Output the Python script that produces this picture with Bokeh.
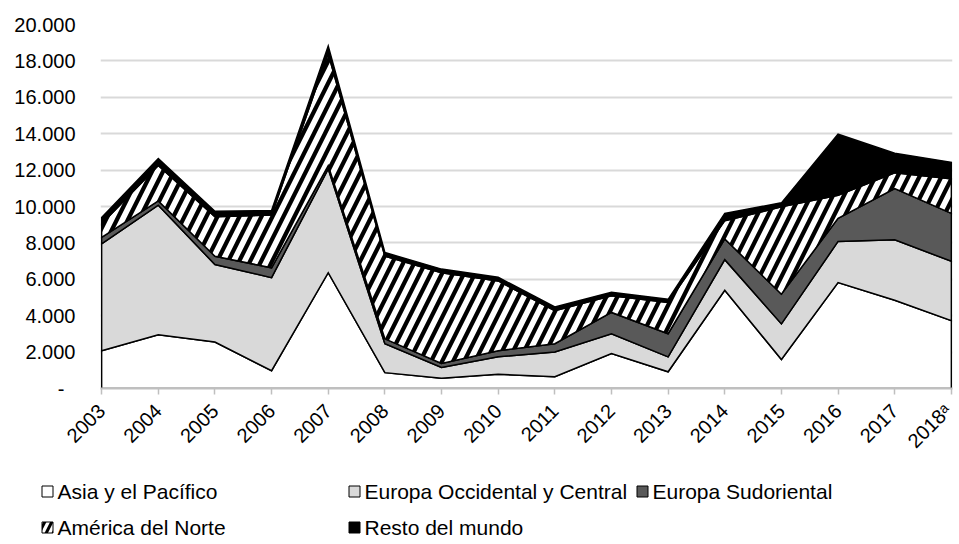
import numpy as np
from math import pi
from bokeh.plotting import figure
from bokeh.models import Range1d, FixedTicker
from bokeh.core.properties import value
from bokeh.embed import file_html
from bokeh.resources import INLINE

# ---------------- data ----------------
years = ["2003", "2004", "2005", "2006", "2007", "2008", "2009", "2010",
         "2011", "2012", "2013", "2014", "2015", "2016", "2017", "2018\u1d43"]
asia = [2070, 2950, 2550, 980, 6360, 870, 560, 780, 650, 1920, 920, 5400, 1590, 5820, 4850, 3730]
europa_occ = [5880, 7120, 4260, 5110, 5710, 1590, 600, 960, 1360, 1090, 820, 1680, 1960, 2260, 3320, 3260]
sudoriental = [350, 240, 460, 540, 180, 270, 220, 330, 450, 1170, 1270, 1140, 1630, 1270, 2810, 2630]
america = [750, 1940, 2170, 2900, 6150, 4540, 4980, 3840, 1820, 910, 1720, 1000, 4800, 1270, 870, 1900]
resto = [350, 380, 300, 250, 420, 200, 200, 200, 200, 200, 170, 400, 220, 3350, 1080, 910]
series_names = ["Asia y el Pacífico", "Europa Occidental y Central", "Europa Sudoriental",
                "América del Norte", "Resto del mundo"]
y_ticks = [0, 2000, 4000, 6000, 8000, 10000, 12000, 14000, 16000, 18000, 20000]
y_tick_labels = ["-\u00a0\u00a0", "2.000", "4.000", "6.000", "8.000", "10.000",
                 "12.000", "14.000", "16.000", "18.000", "20.000"]

FONT = "Liberation Sans"
fills = ["#ffffff", "#d9d9d9", "#595959", "#ffffff", "#000000"]
hatches = [None, None, None, "/", None]

# ---------------- chart ----------------
p = figure(width=955, height=462, x_range=Range1d(-0.02, 15.02), y_range=Range1d(0, 20000),
           output_backend="svg", toolbar_location=None,
           min_border_left=100, min_border_right=3, min_border_top=24, min_border_bottom=70)
p.outline_line_color = None
p.background_fill_color = "white"
p.border_fill_color = "white"
p.xgrid.visible = False
p.ygrid.grid_line_color = "#d9d9d9"
p.ygrid.grid_line_width = 2
p.ygrid.ticker = FixedTicker(ticks=y_ticks)

x = np.arange(len(years), dtype=float)
layers = [np.array(s, dtype=float) for s in (asia, europa_occ, sudoriental, america, resto)]
bottom = np.zeros(len(years))
for vals, fc, hp in zip(layers, fills, hatches):
    top = bottom + vals
    xs = np.concatenate([x, x[::-1]])
    ys = np.concatenate([top, bottom[::-1]])
    kw = dict(fill_color=fc, line_color="black", line_width=1.5, line_join="miter")
    if hp:
        kw.update(hatch_pattern=hp, hatch_color="black", hatch_weight=4.2, hatch_scale=22)
    p.patch(xs, ys, **kw)
    bottom = top

yax = p.yaxis[0]
yax.ticker = FixedTicker(ticks=y_ticks)
yax.major_label_overrides = {t: l for t, l in zip(y_ticks, y_tick_labels)}
yax.axis_line_color = None
yax.major_tick_line_color = None
yax.minor_tick_line_color = None
yax.major_tick_out = 0
yax.major_label_standoff = 25
yax.major_label_text_font = FONT
yax.major_label_text_font_size = "20px"
yax.major_label_text_color = "black"

xax = p.xaxis[0]
xax.ticker = FixedTicker(ticks=list(range(len(years))))
xax.major_label_overrides = {i: y for i, y in enumerate(years)}
xax.major_label_orientation = pi / 4
xax.axis_line_color = "#bfbfbf"
xax.axis_line_width = 2
xax.major_tick_line_color = "#bfbfbf"
xax.major_tick_line_width = 1.5
xax.major_tick_in = 0
xax.major_tick_out = 6
xax.minor_tick_line_color = None
xax.major_label_standoff = 13
xax.major_label_text_font = FONT
xax.major_label_text_font_size = "20px"
xax.major_label_text_color = "black"

# ---------------- legend (separate root, no frame alignment) ----------------
leg = figure(width=955, height=80, x_range=Range1d(0, 955), y_range=Range1d(80, 0),
             output_backend="svg", toolbar_location=None,
             x_axis_location=None, y_axis_location=None, min_border=0)
leg.outline_line_color = None
leg.grid.visible = False
leg.background_fill_color = "white"
leg.border_fill_color = "white"

sq_x = [47, 354, 642, 47, 354]
sq_y = [29, 29, 29, 65, 65]
tx_x = [57, 364, 652, 57, 364]
for i in range(5):
    kw = dict(fill_color=fills[i], line_color="black", line_width=1)
    if hatches[i]:
        kw.update(hatch_pattern="/", hatch_color="black", hatch_weight=3, hatch_scale=14)
    leg.rect(x=[sq_x[i]], y=[sq_y[i]], width=11, height=11,
             width_units="screen", height_units="screen", **kw)
leg.text(x=tx_x, y=sq_y, text=series_names, text_font=value(FONT),
         text_font_size="21px", text_baseline="middle", text_align="left", text_color="black")

open("out.html", "w").write(file_html([p, leg], INLINE))
